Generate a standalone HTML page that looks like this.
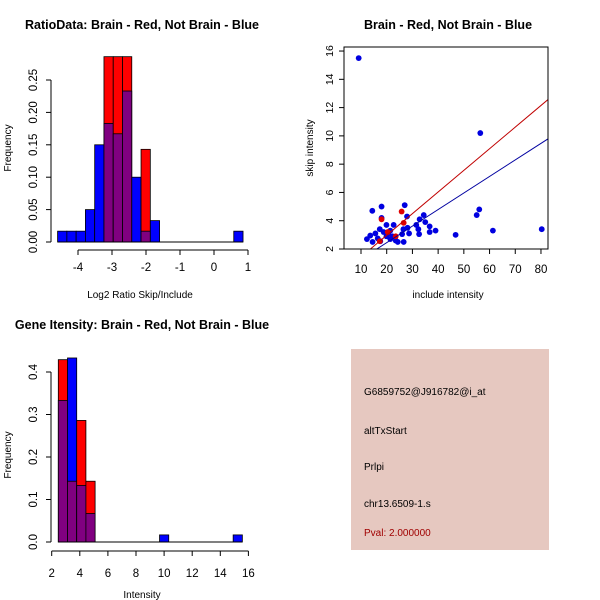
<!DOCTYPE html>
<html><head><meta charset="utf-8"><style>
body{margin:0;background:#fff}
svg{display:block;font-family:"Liberation Sans",sans-serif}
</style></head><body>
<svg id="c" width="600" height="600" xmlns="http://www.w3.org/2000/svg"></svg>
<script>
// ---- Panel 1: ratio histogram ----
const ratioBlue=[0.0167,0.0167,0.0167,0.05,0.15,0.183,0.167,0.233,0.1,0.0167,0.033,0,0,0,0,0,0,0,0,0.0167];
const ratioRed=[0,0,0,0,0,0.286,0.286,0.286,0,0.143,0,0,0,0,0,0,0,0,0,0];
const ratioXTicks=[-4,-3,-2,-1,0,1];
const ratioYTicks=[0,0.05,0.10,0.15,0.20,0.25];
const ratioYLabels=["0.00","0.05","0.10","0.15","0.20","0.25"];
// ---- Panel 2: scatter ----
const incBlue=[9.1,56.4,18,14.4,27,55,56,18,27.9,34.4,32.8,35,31.5,36.7,19.9,22.7,28.1,26.5,17.3,32.3,39,36.7,28.7,21.4,20.6,18.8,26,32.6,46.8,61.3,80.3,15.6,13.6,12.3,14.5,16.5,21.4,23.5,24.3,26.6,17.5,19.9,22.2];
const skipBlue=[15.5,10.2,5.0,4.7,5.1,4.4,4.8,4.2,4.3,4.4,4.1,3.9,3.7,3.6,3.7,3.7,3.5,3.4,3.4,3.4,3.3,3.2,3.1,3.3,3.1,3.2,3.05,3.05,3.0,3.3,3.4,3.1,2.95,2.7,2.5,2.75,2.7,2.6,2.5,2.5,2.55,2.9,2.9];
const incRed=[25.8,26.6,18,17.3,23.5,20.4];
const skipRed=[4.65,3.85,4.1,2.55,2.9,3.2];
const fitRed=[-0.09,0.153];
const fitBlue=[0.11,0.117];
const scXTicks=[10,20,30,40,50,60,70,80];
const scYTicks=[2,4,6,8,10,12,14,16];
// ---- Panel 3: intensity histogram ----
const intBlue=[0.333,0.433,0.133,0.067,0,0,0,0,0,0,0,0.0167,0,0,0,0,0,0,0,0.0167];
const intRed=[0.429,0.143,0.286,0.143,0,0,0,0,0,0,0,0,0,0,0,0,0,0,0,0];
const intXTicks=[2,4,6,8,10,12,14,16];
const intYTicks=[0,0.1,0.2,0.3,0.4];
const intYLabels=["0.0","0.1","0.2","0.3","0.4"];

const svg=document.getElementById('c');
const NS="http://www.w3.org/2000/svg";
function mk(tag,attrs,name,parent){const e=document.createElementNS(NS,tag);for(const k in attrs)e.setAttribute(k,attrs[k]);


(parent||svg).appendChild(e);return e;}
function txt(x,y,s,name,o){o=o||{};const t=mk('text',{x:x,y:y,'font-size':o.size||11.5,'text-anchor':o.anchor||'middle',fill:o.fill||'#000','font-weight':o.bold?'bold':'normal',transform:o.rot?`rotate(-90 ${x} ${y})`:''},name);t.textContent=s;return t;}
function line(x1,y1,x2,y2,name,c,w){return mk('line',{x1,y1,x2,y2,stroke:c||'#000','stroke-width':w||1},name);}

function hist(blue,red,start,w,sx,sy,pref){
  for(let i=0;i<blue.length;i++){
    const x0=sx(start+i*w),x1=sx(start+(i+1)*w);
    const b=blue[i],r=red[i],m=Math.min(b,r),M=Math.max(b,r);
    if(M>0){mk('rect',{x:x0,y:sy(M),width:x1-x0,height:sy(0)-sy(M),fill:b>=r?'#0000ff':'#ff0000',stroke:'#000','stroke-width':0.8},pref+'-bar-'+i);}
    if(m>0){mk('rect',{x:x0,y:sy(m),width:x1-x0,height:sy(0)-sy(m),fill:'#800080',stroke:'#000','stroke-width':0.8},pref+'-overlap-'+i);}
  }
  const x0=sx(start),x1=sx(start+blue.length*w);
  line(x0,sy(0),x1,sy(0),pref+'-baseline');
}

// Panel 1
{const sx=v=>78+(v+4)*34, sy=v=>242-v*648;
txt(142,29,"RatioData: Brain - Red, Not Brain - Blue",'title-ratio',{bold:true,size:12.5});
hist(ratioBlue,ratioRed,-4.6,0.2727,sx,sy,'ratio');
line(sx(-4),250,sx(1),250,'ratio-x-axis');
ratioXTicks.forEach(t=>{line(sx(t),250,sx(t),255,'ratio-x-tick');txt(sx(t),271,String(t),'ratio-x-label');});
line(51,sy(0),51,sy(0.25),'ratio-y-axis');
ratioYTicks.forEach((t,i)=>{line(46,sy(t),51,sy(t),'ratio-y-tick');txt(37,sy(t),ratioYLabels[i],'ratio-y-label',{rot:true});});
txt(140,298,"Log2 Ratio Skip/Include",'ratio-x-title',{size:10});
txt(11,148,"Frequency",'ratio-y-title',{rot:true,size:10});}

// Panel 2
{const sx=v=>361+(v-10)*2.571, sy=v=>249-(v-2)*14.14;
txt(448,29,"Brain - Red, Not Brain - Blue",'title-scatter',{bold:true,size:12.5});
const cp=mk('clipPath',{id:'cp'},'scatter-clip');
mk('rect',{x:344,y:47,width:204,height:202},'clip-rect',cp);
const g=mk('g',{'clip-path':'url(#cp)'},'scatter-plot-area');
incBlue.forEach((x,i)=>mk('circle',{cx:sx(x),cy:sy(skipBlue[i]),r:2.9,fill:'#0000e0'},'point-blue',g));
incRed.forEach((x,i)=>mk('circle',{cx:sx(x),cy:sy(skipRed[i]),r:2.9,fill:'#e00000'},'point-red',g));
mk('line',{x1:sx(0),y1:sy(fitRed[0]),x2:sx(90),y2:sy(fitRed[0]+fitRed[1]*90),stroke:'#c00000','stroke-width':1},'fit-line-red',g);
mk('line',{x1:sx(0),y1:sy(fitBlue[0]),x2:sx(90),y2:sy(fitBlue[0]+fitBlue[1]*90),stroke:'#0000a0','stroke-width':1},'fit-line-blue',g);
mk('rect',{x:344,y:47,width:204,height:202,fill:'none',stroke:'#000'},'scatter-box');
scXTicks.forEach(t=>{line(sx(t),249,sx(t),254,'scatter-x-tick');txt(sx(t),273,String(t),'scatter-x-label');});
scYTicks.forEach(t=>{line(339,sy(t),344,sy(t),'scatter-y-tick');txt(333,sy(t),String(t),'scatter-y-label',{rot:true,size:10.5});});
txt(448,298,"include intensity",'scatter-x-title',{size:10});
txt(313,148,"skip intensity",'scatter-y-title',{rot:true,size:10});}

// Panel 3
{const sx=v=>51.7+(v-2)*14.05, sy=v=>542-v*425;
txt(142,329,"Gene Itensity: Brain - Red, Not Brain - Blue",'title-intensity',{bold:true,size:12.5});
hist(intBlue,intRed,2.47,0.655,sx,sy,'int');
line(sx(2),551,sx(16),551,'int-x-axis');
intXTicks.forEach(t=>{line(sx(t),551,sx(t),556,'int-x-tick');txt(sx(t),577,String(t),'int-x-label');});
line(51,sy(0),51,sy(0.4),'int-y-axis');
intYTicks.forEach((t,i)=>{line(46,sy(t),51,sy(t),'int-y-tick');txt(37,sy(t),intYLabels[i],'int-y-label',{rot:true});});
txt(142,598,"Intensity",'int-x-title',{size:10});
txt(11,455,"Frequency",'int-y-title',{rot:true,size:10});}

// Info panel
mk('rect',{x:351,y:349,width:198,height:201,fill:'#e6c8c0'},'info-panel');
txt(364,395,"G6859752@J916782@i_at",'info-probe-id',{anchor:'start',size:10});
txt(364,434,"altTxStart",'info-event-type',{anchor:'start',size:10});
txt(364,470,"Prlpi",'info-gene',{anchor:'start',size:10});
txt(364,507,"chr13.6509-1.s",'info-location',{anchor:'start',size:10});
txt(364,536,"Pval: 2.000000",'info-pval',{anchor:'start',size:10,fill:'#a00000'});
</script>
</body></html>
